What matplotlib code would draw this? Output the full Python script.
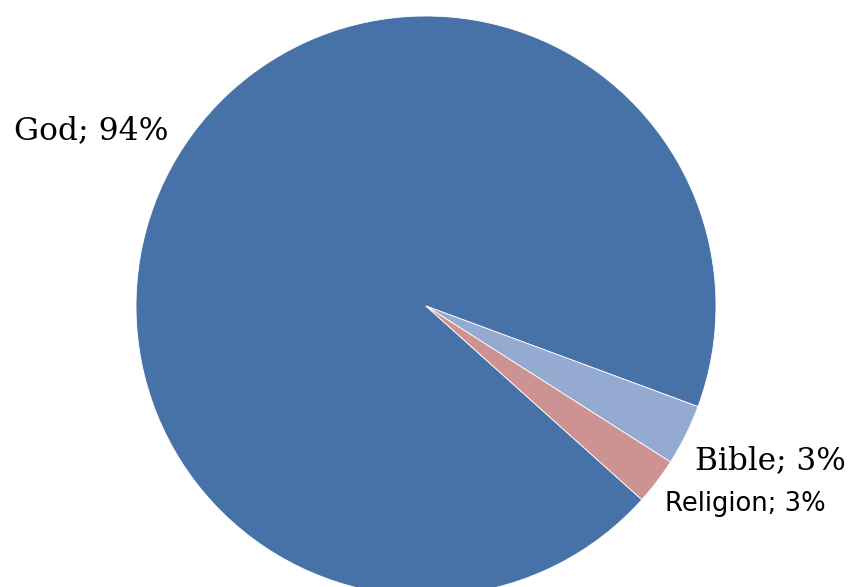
import matplotlib
matplotlib.use("Agg")
import matplotlib.pyplot as plt
import numpy as np

categories = ["God", "Bible", "Religion"]
values = [94.0, 3.4, 2.6]
label_pcts = ["94%", "3%", "3%"]
colors = ["#4672a8", "#94aad0", "#cd9392"]

fig = plt.figure(figsize=(8.48, 5.87), dpi=100)
ax = fig.add_axes([0, 0, 1, 1])

cx, cy, r = 426, 281, 290
wedges, _ = ax.pie(values, colors=colors, startangle=-41.9, counterclock=False,
                   center=(cx, cy), radius=r, frame=True,
                   wedgeprops=dict(edgecolor="white", linewidth=0.6))
ax.set_xlim(0, 848)
ax.set_ylim(0, 587)
ax.set_aspect("equal")
ax.axis("off")

ax.text(168, 456, f"{categories[0]}; {label_pcts[0]}", ha="right", va="center",
        fontsize=22.6, family="DejaVu Serif")
ax.text(695, 126, f"{categories[1]}; {label_pcts[1]}", ha="left", va="center",
        fontsize=22.4, family="DejaVu Serif")
ax.text(665, 83, f"{categories[2]}; {label_pcts[2]}", ha="left", va="center",
        fontsize=18.6, family="DejaVu Sans")

fig.savefig("out.png", dpi=100)
